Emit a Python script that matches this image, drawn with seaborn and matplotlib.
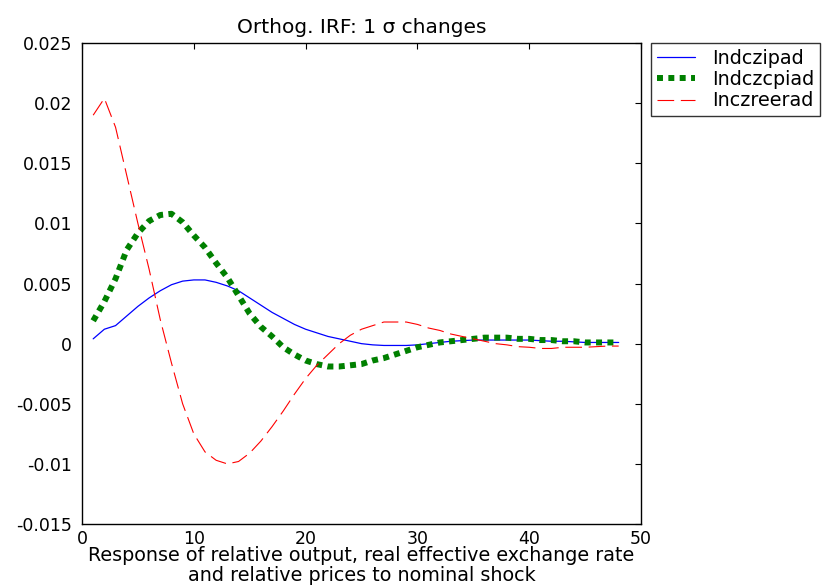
import matplotlib
matplotlib.use("Agg")
import matplotlib.pyplot as plt
import numpy as np
import pandas as pd
import seaborn as sns
from matplotlib.ticker import FuncFormatter

# impulse responses, periods 1..48
periods = list(range(1, 49))

indczipad = [0.0004, 0.0012, 0.0015, 0.0023, 0.0031, 0.0038, 0.0044, 0.0049, 0.0052, 0.0053,
             0.0053, 0.0051, 0.0048, 0.0044, 0.0038, 0.0032, 0.0026, 0.0021, 0.0016, 0.0012,
             0.0009, 0.0006, 0.0004, 0.0002, 0.0000, -0.0001, -0.00015, -0.00015, -0.00015, -0.0001,
             0.0000, 0.0001, 0.0002, 0.00025, 0.0003, 0.0003, 0.0003, 0.0003, 0.0003, 0.0003,
             0.00025, 0.0002, 0.0002, 0.00015, 0.0001, 0.0001, 0.0001, 0.0001]

indczcpiad = [0.0019, 0.0035, 0.0054, 0.0078, 0.0092, 0.0102, 0.0107, 0.0108, 0.0101, 0.0090,
              0.0080, 0.0067, 0.0055, 0.0040, 0.0025, 0.0014, 0.0006, -0.0003, -0.0009, -0.0014,
              -0.0017, -0.0019, -0.0019, -0.0018, -0.0017, -0.0014, -0.0012, -0.0009, -0.0006, -0.0003,
              -0.0001, 0.0001, 0.0002, 0.0003, 0.0004, 0.0005, 0.0005, 0.0005, 0.0004, 0.0004,
              0.0003, 0.0003, 0.0002, 0.0002, 0.0001, 0.0001, 0.0001, 0.0001]

inczreerad = [0.0190, 0.0204, 0.0180, 0.0140, 0.0100, 0.0062, 0.0020, -0.0016, -0.0050, -0.0075,
              -0.0090, -0.0097, -0.0100, -0.0098, -0.0091, -0.0081, -0.0069, -0.0056, -0.0042, -0.0029,
              -0.0018, -0.0009, 0.0000, 0.0007, 0.0012, 0.0015, 0.0018, 0.0018, 0.0018, 0.0016,
              0.0013, 0.0011, 0.0008, 0.0006, 0.0004, 0.0002, 0.0000, -0.0001, -0.00025, -0.0003,
              -0.0004, -0.0004, -0.0003, -0.0003, -0.0003, -0.00025, -0.0002, -0.0002]

series_names = ["Indczipad", "Indczcpiad", "Inczreerad"]

sns.set_style("white")
plt.rcParams["font.family"] = ["DejaVu Sans"]
plt.rcParams["axes.unicode_minus"] = False
plt.rcParams["text.color"] = "black"
plt.rcParams["axes.labelcolor"] = "black"

fig = plt.figure(figsize=(8.35, 5.88), dpi=100)
ax = fig.add_axes([0.0982, 0.1088, 0.6695, 0.8180])

sns.lineplot(x=periods, y=indczipad, ax=ax, color="#0000ff", linewidth=0.9,
             label=series_names[0])
sns.lineplot(x=periods, y=indczcpiad, ax=ax, color="#008000", linewidth=4.3,
             linestyle=(0, (1, 0.9)), label=series_names[1])
sns.lineplot(x=periods, y=inczreerad, ax=ax, color="#ff0000", linewidth=0.8,
             linestyle=(0, (15, 6)), label=series_names[2])

ax.set_xlim(0, 50)
ax.set_ylim(-0.015, 0.025)
ax.set_xticks([0, 10, 20, 30, 40, 50])
ax.set_yticks(np.arange(-0.015, 0.0251, 0.005))
ax.yaxis.set_major_formatter(FuncFormatter(lambda v, p: "%g" % round(v, 4)))

for s in ax.spines.values():
    s.set_color("black")
    s.set_linewidth(1.0)
ax.tick_params(direction="in", length=4, width=0.8, top=True, right=True,
               labelsize=12.5, colors="black")
ax.tick_params(axis="y", pad=7)
ax.tick_params(axis="x", pad=4)

ax.set_title("Orthog. IRF: 1 σ changes", fontsize=14.5, pad=7, color="black")
ax.set_xlabel("Response of relative output, real effective exchange rate\nand relative prices to nominal shock",
              fontsize=13.8, labelpad=-1, linespacing=1.05, color="black")
ax.set_ylabel("")

leg = ax.legend(loc="upper left", bbox_to_anchor=(651 / 835, 545 / 588),
                bbox_transform=fig.transFigure, frameon=True, fancybox=False,
                fontsize=13.8, handlelength=2.0, borderaxespad=0, labelspacing=0.12,
                borderpad=0.3, handletextpad=0.9)
leg.get_frame().set_edgecolor("black")
leg.get_frame().set_linewidth(1.0)
for t in leg.get_texts():
    t.set_color("black")

fig.savefig("out.png", dpi=100)
